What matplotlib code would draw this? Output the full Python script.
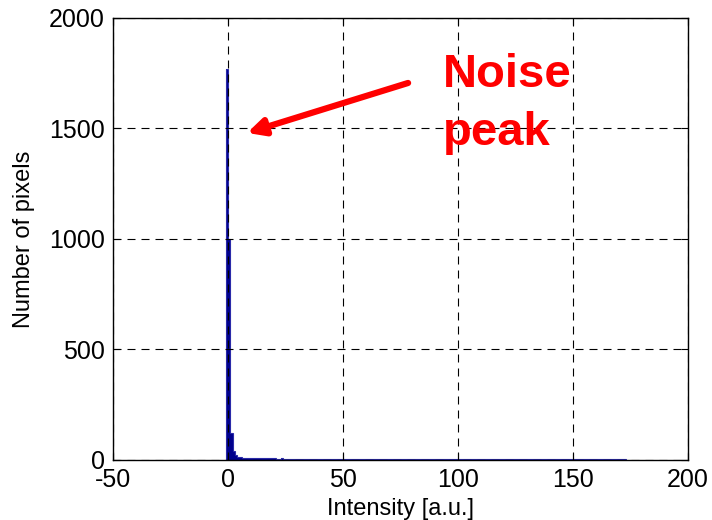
import matplotlib.pyplot as plt
import numpy as np

plt.rcParams["font.family"] = ["Liberation Sans", "DejaVu Sans"]
plt.rcParams["axes.unicode_minus"] = False

# histogram of pixel intensities, unit-width bins starting at -1
bin_start = -1.0
bin_width = 1.0
peak_counts = [1770, 1000, 120, 40, 22, 14, 12, 10, 9, 9]
tail_counts = [
    8, 7, 7, 8, 10, 11, 10, 8, 7, 7, 7, 7, 6, 6, 7, 6, 6, 6, 6, 6,
    6, 6, 6, 6, 6, 6, 6, 6, 6, 6, 6, 6, 5, 6, 6, 5, 6, 6, 6, 5,
    6, 5, 6, 5, 5, 6, 5, 5, 6, 5, 5, 5, 6, 5, 5, 5, 5, 6, 5, 5,
    5, 5, 5, 6, 5, 5, 5, 5, 5, 5, 6, 5, 5, 5, 5, 5, 5, 5, 5, 6,
    5, 5, 5, 5, 5, 5, 5, 5, 5, 5, 5, 6, 5, 5, 5, 5, 5, 5, 5, 5,
    5, 5, 5, 5, 5, 5, 5, 5, 6, 5, 5, 5, 5, 5, 5, 5, 5, 5, 5, 5,
    5, 5, 5, 5, 5, 5, 5, 5, 5, 5, 5, 5, 5, 5, 5, 5, 5, 5, 5, 5,
    5, 5, 5, 5, 5, 5, 5, 5, 5, 5, 5, 5, 5, 5, 5, 5, 4, 4, 4, 4,
    4, 4, 4, 3,
]
counts = np.array(peak_counts + tail_counts, dtype=float)
edges = bin_start + bin_width * np.arange(len(counts) + 1)

x_ticks = [-50, 0, 50, 100, 150, 200]
y_ticks = [0, 500, 1000, 1500, 2000]

fig = plt.figure(figsize=(7.12, 5.2), dpi=100)
ax = fig.add_axes([0.1587, 0.1154, 0.8076, 0.85])

ax.stairs(counts, edges, fill=True, color="#00008c", linewidth=0)
ax.stairs(counts, edges, fill=False, color="#2a2aa8", linewidth=0.8)

ax.set_xlim(-50, 200)
ax.set_ylim(0, 2000)
ax.set_xticks(x_ticks)
ax.set_yticks(y_ticks)
ax.grid(True, color="black", linestyle=(0, (7.2, 5.4)), linewidth=0.8)
ax.set_axisbelow(False)
ax.tick_params(direction="in", length=5, width=0.8, labelsize=18,
               top=True, right=True)
ax.tick_params(axis="x", pad=6)
ax.tick_params(axis="y", pad=6)
for s in ax.spines.values():
    s.set_linewidth(1.0)

ax.set_xlabel("Intensity [a.u.]", fontsize=17, labelpad=4)
ax.set_ylabel("Number of pixels", fontsize=17, labelpad=10)

ax.annotate("", xy=(8.3, 1480), xytext=(78.3, 1706),
            arrowprops=dict(arrowstyle="-|>,head_length=1.0,head_width=0.5",
                            color="red", linewidth=4.5, shrinkA=0, shrinkB=0))
ax.text(93.5, 1688, "Noise", color="red", fontsize=34, fontweight="bold",
        ha="left", va="baseline")
ax.text(93.5, 1425, "peak", color="red", fontsize=34, fontweight="bold",
        ha="left", va="baseline")

fig.savefig("out.png", dpi=100)
